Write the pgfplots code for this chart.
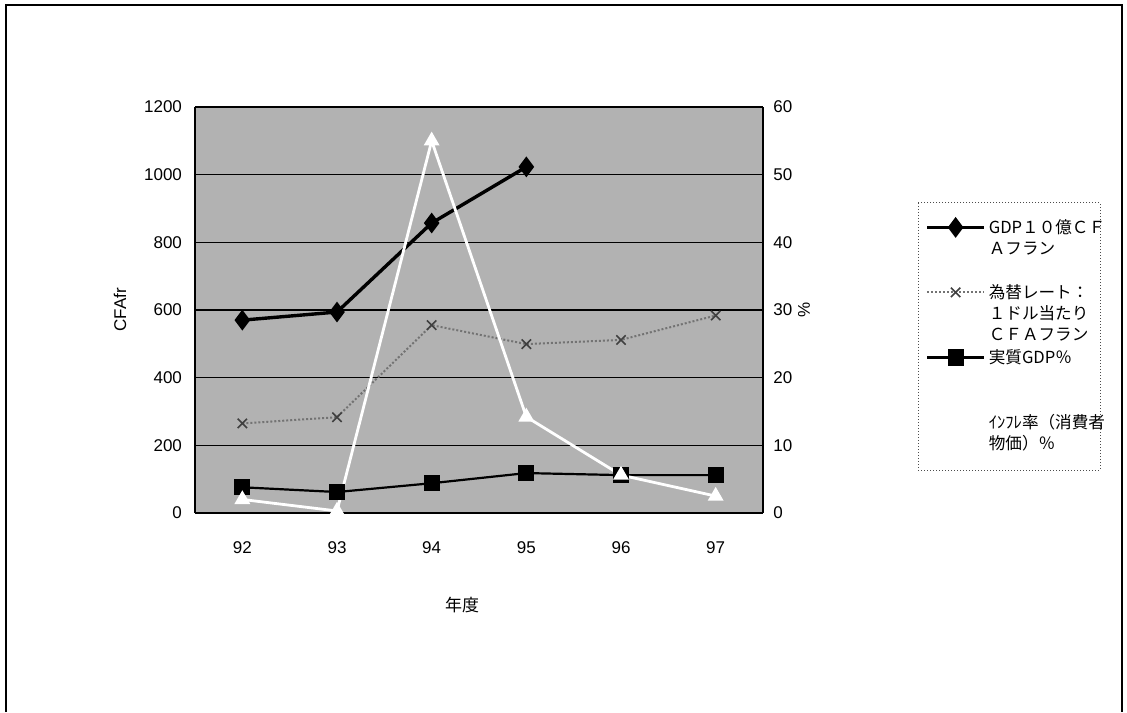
\documentclass[border=0pt]{standalone}
\usepackage{pgfplots}
\usepackage{pgfplotstable}
\pgfplotsset{compat=1.18}
\usepackage{fontspec}
\setmainfont{Liberation Sans}
\newfontfamily\jp{Noto Sans CJK JP}

\pgfplotstableread{
x gdp
0 570
1 594
2 857
3 1023
}\gdptable
\pgfplotstableread{
x exch
0 264.7
1 283.2
2 555.2
3 499.2
4 511.6
5 583.7
}\exchtable
\pgfplotstableread{
x real infl
0 3.8 2.0
1 3.1 0.3
2 4.4 55.0
3 5.9 14.2
4 5.6 5.6
5 5.6 2.5
}\righttable

\newcommand{\legtext}[1]{\smash{\parbox[t]{62pt}{\jp\fontsize{8.3}{10.5}\selectfont #1}}}

\pgfplotsset{
  gdp/.style={black, solid, line width=1.7pt, mark=diamond*, mark size=3.8pt, mark options={solid}},
  exch/.style={black!55, densely dotted, line width=1pt, mark=x, mark size=3.3pt, mark options={solid, black!75, line width=0.8pt}},
  real/.style={black, solid, line width=1.1pt, mark=square*, mark size=3.5pt, mark options={solid}},
  infl/.style={white, solid, line width=1.4pt, mark=triangle*, mark size=3.2pt, mark options={solid}},
  base/.style={
    scale only axis, width=284pt, height=203pt,
    xmin=-0.5, xmax=5.5,
    major tick length=0pt,
    /pgf/number format/assume math mode=true,
    /pgf/number format/1000 sep={},
    tick label style={font=\fontsize{8.5}{10}\selectfont},
    legend image code/.code={\draw[mark repeat=2,mark phase=2,##1] plot coordinates {(0pt,3pt) (14.25pt,3pt) (28.5pt,3pt)};},
  }
}

\begin{document}
\begin{tikzpicture}
\path[use as bounding box] (0pt,0pt) rectangle (563.5pt,356pt);
\draw[line width=0.8pt] (3pt,0pt) -- (3pt,353.5pt) -- (561pt,353.5pt) -- (561pt,0pt);

\begin{axis}[base,
  at={(97.5pt,99.5pt)}, anchor=south west,
  ymin=0, ymax=1200, ytick={0,200,...,1200},
  xtick={0,...,5}, xticklabels={92,93,94,95,96,97},
  xticklabel style={yshift=-11pt},
  yticklabel style={xshift=-3pt},
  ymajorgrids, grid style={black, line width=0.7pt},
  axis x line*=bottom, axis y line*=left,
  axis line style={line width=1.3pt, -},
  axis background/.style={fill=black!30},
]
\addplot[gdp] table[x=x, y=gdp] {\gdptable};
\addplot[exch] table[x=x, y=exch] {\exchtable};
\end{axis}

\begin{axis}[base,
  at={(97.5pt,99.5pt)}, anchor=south west,
  ymin=0, ymax=60, ytick={0,10,...,60},
  axis x line=none, axis y line*=right,
  axis line style={line width=1.3pt, -},
  yticklabel style={xshift=1.7pt},
  legend style={at={(1.2729,0.7635)}, anchor=north west, draw=none, fill=white,
    inner xsep=3.5pt, inner ysep=7pt, row sep=0pt,
    cells={anchor=base west},
    nodes={inner sep=0pt, text height=8pt, text depth=24.5pt},
    /tikz/every odd column/.append style={column sep=1.5pt}},
]
\addlegendimage{gdp}
\addlegendentry{\legtext{GDP１０億ＣＦ\\Ａフラン}}
\addlegendimage{exch}
\addlegendentry{\legtext{為替レート：\\１ドル当たり\\ＣＦＡフラン}}
\addplot[real] table[x=x, y=real] {\righttable};
\addlegendentry{\legtext{実質GDP％}}
\addplot[infl] table[x=x, y=infl] {\righttable};
\addlegendentry{\legtext{ｲﾝﾌﾚ率（消費者\\物価）％}}
\end{axis}

\draw[densely dotted, line width=0.5pt, black!70] (459pt,254.5pt) rectangle (550pt,121pt);
\node[rotate=90, font=\fontsize{8.5}{10}\selectfont] at (60pt,201pt) {CFAfr};
\node[rotate=90, font=\fontsize{8.5}{10}\selectfont] at (402pt,201pt) {\%};
\node[font=\jp\fontsize{8.5}{10}\selectfont] at (231pt,53.5pt) {年度};
\end{tikzpicture}
\end{document}
